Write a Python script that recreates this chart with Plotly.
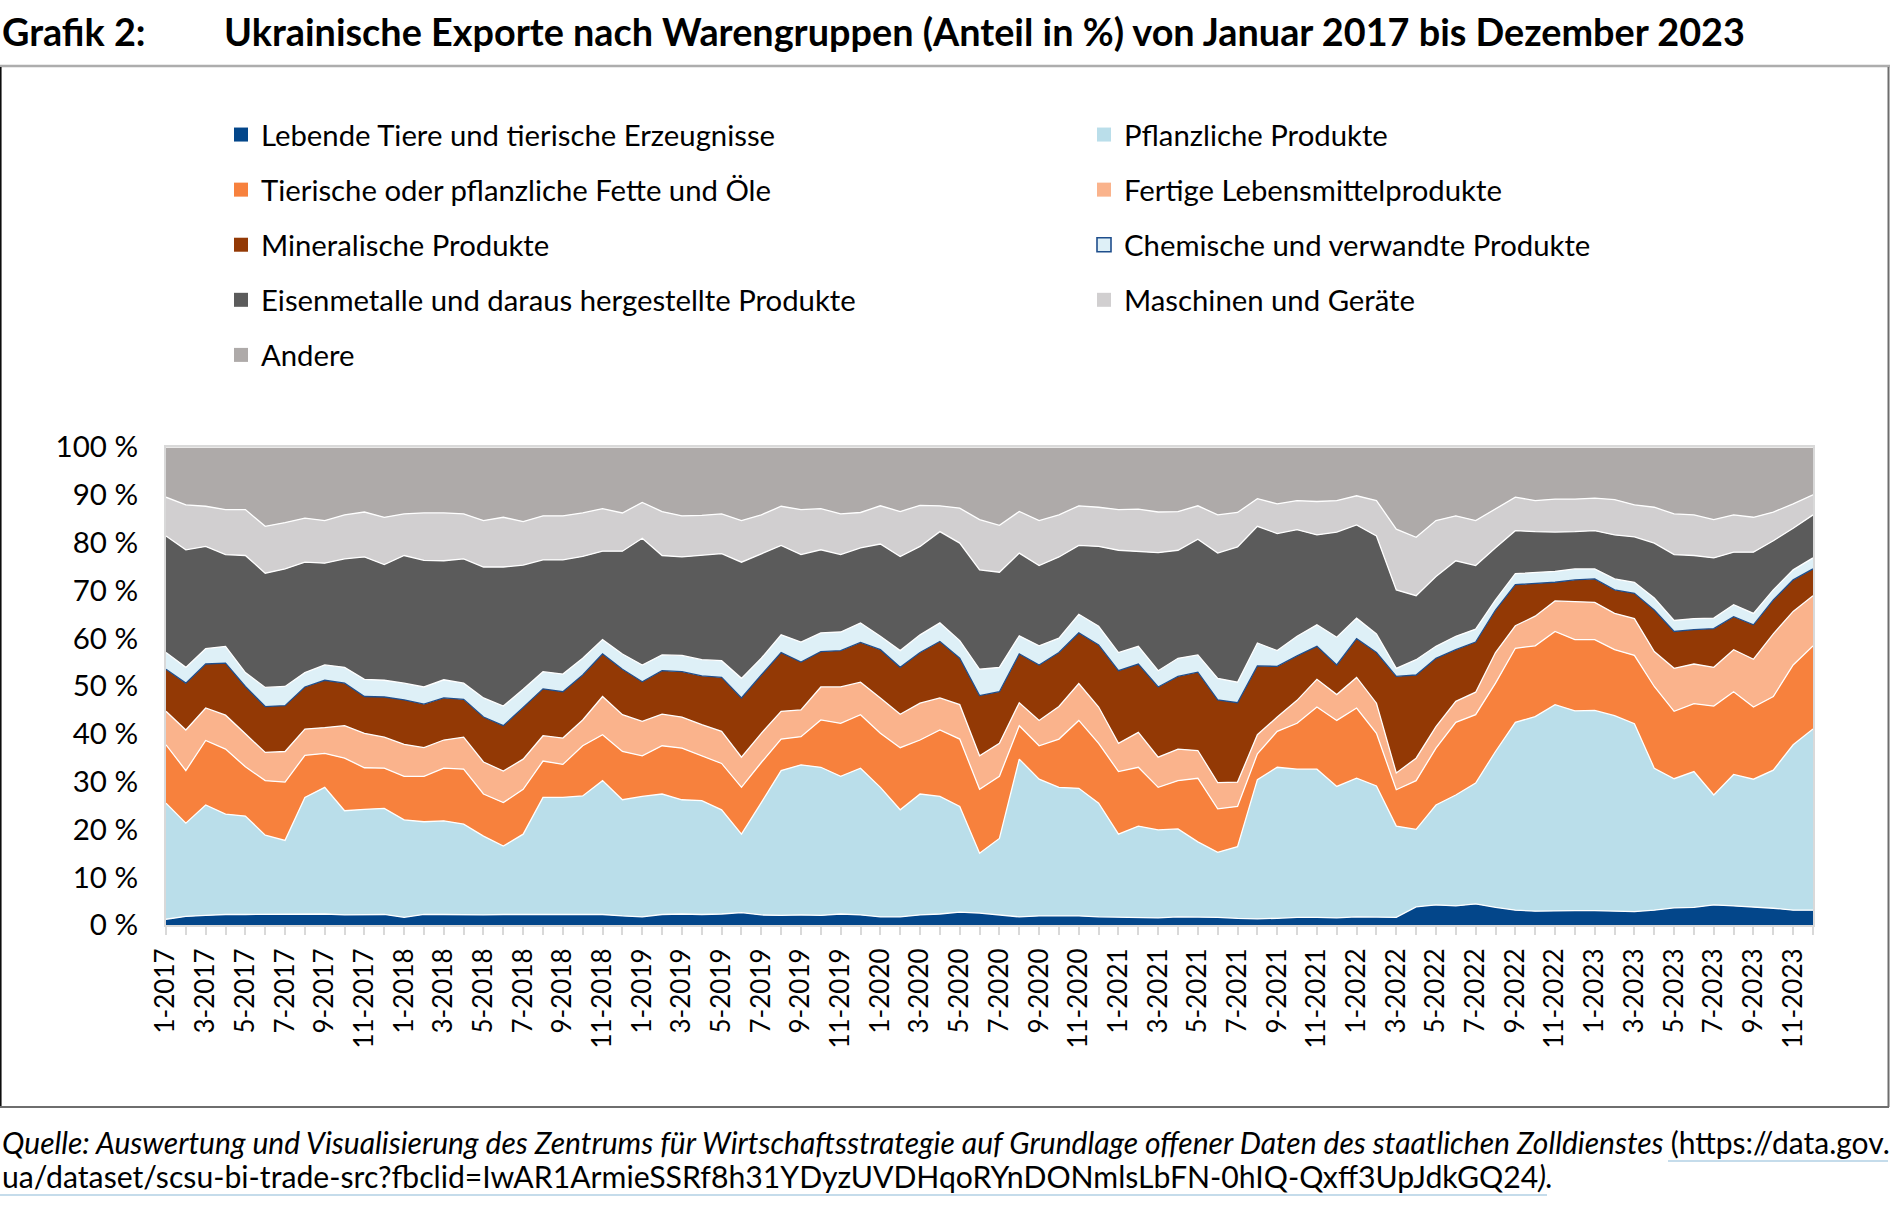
import plotly.graph_objects as go

# ---------------- data ----------------
months = [f"{m}-{y}" for y in range(2017, 2024) for m in range(1, 13)]
tick_labels = [lab if i % 2 == 0 else "" for i, lab in enumerate(months)]

lebende = [1.2,1.8,2.0,2.2,2.2,2.2,2.2,2.3,2.3,2.1,2.2,2.2,1.6,2.2,2.2,2.1,2.1,2.2,2.2,2.2,2.3,
           2.3,2.2,1.9,1.7,2.2,2.3,2.2,2.3,2.6,2.1,2.0,2.1,2.0,2.3,2.1,1.7,1.7,2.1,2.3,2.7,2.5,
           2.1,1.7,1.9,1.9,1.9,1.7,1.6,1.6,1.5,1.7,1.7,1.6,1.4,1.3,1.4,1.6,1.6,1.5,1.7,1.7,1.6,
           3.8,4.2,4.0,4.4,3.7,3.1,2.9,3.0,3.0,3.0,2.9,2.8,3.1,3.6,3.7,4.2,4.0,3.8,3.5,3.1,3.1]
pflanzlich = [24.3,19.5,23.1,21.0,20.6,16.6,15.5,24.4,26.5,21.8,22.0,22.2,20.4,19.4,19.6,19.0,16.5,14.3,16.8,24.5,24.4,
              24.7,28.0,24.3,25.2,25.2,23.9,23.8,21.8,16.4,23.5,30.3,31.4,31.0,28.8,30.7,27.1,22.4,25.3,24.6,22.1,12.5,
              16.0,33.0,28.6,26.9,26.7,23.8,17.4,19.1,18.4,18.4,15.7,13.6,15.0,29.1,31.6,31.0,31.0,27.5,29.0,27.4,19.1,
              16.2,20.9,23.2,25.3,32.6,39.3,40.7,43.1,41.8,41.9,40.9,39.3,29.7,27.0,28.4,23.0,27.5,26.7,28.9,34.6,37.9]
fette = [12.2,11.0,13.5,13.6,10.3,11.4,12.2,8.8,7.1,11.0,8.7,8.4,9.1,9.5,11.0,11.5,8.8,9.1,9.4,7.6,6.9,
         10.5,9.6,10.1,8.5,10.1,10.8,9.4,9.7,9.8,8.4,6.6,5.9,9.9,11.1,11.2,11.3,13.0,11.3,13.9,14.1,13.4,
         13.0,7.0,7.0,10.1,14.2,12.5,13.1,12.3,8.9,10.1,13.3,9.1,8.4,5.4,7.5,9.6,13.0,13.8,14.7,11.0,7.6,
         10.2,11.9,15.2,14.3,14.3,15.5,14.8,15.3,14.9,14.8,13.8,14.3,17.1,14.1,14.2,18.6,17.3,15.1,15.4,16.7,17.4]
lebensmittel = [7.0,8.5,6.8,7.1,6.9,5.9,6.4,5.5,5.4,6.8,7.2,6.5,6.7,6.0,5.9,6.7,6.7,6.6,6.3,5.3,5.5,
                5.4,8.0,7.7,7.2,6.6,6.5,6.5,6.7,6.3,6.1,5.8,5.6,6.9,7.6,6.8,7.4,7.0,7.7,6.7,7.2,7.0,
                6.9,4.8,5.3,6.8,7.7,7.6,5.9,7.3,6.3,6.6,5.8,5.5,5.1,4.0,3.0,4.8,5.8,5.4,6.4,6.3,3.5,
                4.7,4.5,4.4,4.7,6.4,4.7,6.2,6.4,8.0,7.8,7.6,7.7,7.3,9.0,8.3,8.1,8.8,10.0,13.1,11.2,10.5]
mineralisch = [8.8,9.8,9.2,10.9,9.9,9.6,9.6,8.8,9.9,8.9,7.7,8.4,9.3,9.1,8.8,7.9,9.4,9.5,10.8,9.8,9.7,
               9.4,8.9,9.5,8.3,9.1,9.5,10.2,11.3,12.4,12.2,12.3,10.0,7.4,7.6,8.3,10.1,9.8,10.6,11.8,9.7,12.6,
               10.8,10.2,11.6,11.3,10.6,13.0,15.2,14.3,14.7,15.2,16.4,17.3,16.6,14.4,10.6,9.3,6.9,6.2,8.1,10.6,20.2,
               17.4,14.3,10.8,10.5,8.9,8.6,6.8,3.9,4.5,4.9,4.9,5.3,8.7,7.7,7.2,8.1,6.9,7.2,7.1,6.6,5.6]
chemisch = [3.5,3.3,3.2,3.5,2.9,4.0,4.0,3.0,3.2,3.3,3.6,3.5,3.5,3.6,3.8,3.4,4.0,4.1,3.8,3.6,3.7,
            3.5,3.0,3.2,3.5,3.3,3.4,3.4,3.5,4.1,3.5,3.7,4.2,3.9,3.9,4.1,2.8,3.5,3.7,3.9,3.7,5.5,
            5.1,3.8,4.0,3.0,3.9,3.9,3.8,3.7,3.4,3.8,3.6,4.5,4.3,4.8,3.3,4.1,4.5,5.8,4.3,3.9,1.7,
            3.2,2.5,2.8,2.7,2.1,2.3,2.4,2.3,2.3,2.1,2.3,2.3,2.5,2.3,2.3,2.2,2.5,2.4,2.1,2.1,2.3]
eisen = [24.4,24.6,21.4,19.2,24.5,23.9,24.6,23.1,21.3,22.7,25.6,24.2,26.7,26.5,24.9,26.0,27.4,29.1,26.0,23.4,23.9,
         21.3,18.5,21.5,26.5,20.8,20.6,21.8,22.4,24.3,21.9,18.7,18.3,17.4,16.2,15.7,19.3,19.7,18.5,19.1,20.4,20.8,
         19.9,17.3,16.8,17.0,14.4,16.7,21.4,19.9,24.7,22.6,24.2,26.2,28.3,24.4,24.5,22.3,18.8,22.0,19.5,20.5,16.4,
         13.4,14.6,15.8,13.3,10.9,9.0,8.5,8.2,7.8,8.0,9.2,9.5,11.5,13.8,13.2,12.6,11.0,12.8,10.3,8.7,9.0]
maschinen = [8.1,9.4,8.4,9.4,9.6,9.8,9.7,9.2,8.9,9.2,9.4,9.9,8.7,9.9,10.0,9.4,9.7,10.4,9.1,9.2,9.2,
             9.1,8.9,8.0,7.5,9.2,8.6,8.4,8.3,8.7,8.1,8.2,9.4,8.6,8.5,7.4,8.0,9.4,8.6,5.4,7.3,10.5,
             9.8,8.7,9.4,8.8,8.3,8.2,8.5,8.8,8.5,8.1,7.0,8.0,7.2,5.8,6.2,6.1,7.0,6.6,6.1,7.4,12.7,
             12.2,11.7,9.4,9.4,8.2,7.0,6.5,6.9,6.8,6.8,7.4,6.7,7.5,8.5,8.5,8.0,7.8,7.3,6.0,5.1,4.2]
andere = [10.5,12.1,12.4,13.1,13.1,16.6,15.8,14.9,15.4,14.2,13.6,14.7,14.0,13.8,13.8,14.0,15.4,14.7,15.6,14.4,14.4,
          13.8,12.9,13.8,11.6,13.5,14.4,14.3,14.0,15.4,14.2,12.4,13.1,12.9,14.0,13.7,12.3,13.5,12.2,12.3,12.8,15.2,
          16.4,13.5,15.4,14.2,12.3,12.6,13.1,13.0,13.6,13.5,12.3,14.2,13.7,10.8,11.9,11.2,11.4,11.2,10.2,11.2,17.2,
          18.9,15.4,14.4,15.4,12.9,10.5,11.2,10.9,10.9,10.7,11.0,12.1,12.6,14.0,14.2,15.2,14.2,14.7,13.6,11.9,10.0]

series_names = ["Lebende Tiere und tierische Erzeugnisse", "Pflanzliche Produkte",
                "Tierische oder pflanzliche Fette und Öle", "Fertige Lebensmittelprodukte",
                "Mineralische Produkte", "Chemische und verwandte Produkte",
                "Eisenmetalle und daraus hergestellte Produkte", "Maschinen und Geräte", "Andere"]
series_values = [lebende, pflanzlich, fette, lebensmittel, mineralisch, chemisch, eisen, maschinen, andere]
y_ticks = list(range(0, 101, 10))
y_tick_text = [f"{v} %" for v in y_ticks]

# ---------------- styles ----------------
colors = ["#03468A", "#BADEEA", "#F7813D", "#FAB38C", "#933905", "#DEF0F7", "#5B5B5B", "#D1CFD0", "#AEAAA9"]
edge_colors = ["white", "white", "white", "white", "#1F4E8C", "white", "white", "white", "white"]
FONT = "Lato"
W, H = 1890, 1207
L, R, T, B = 166, 1813, 447, 925


def px(x):
    return (x - L) / (R - L)


def py(y):
    return (B - y) / (B - T)


fig = go.Figure()
for name, vals, col, ec in zip(series_names, series_values, colors, edge_colors):
    fig.add_trace(go.Scatter(x=months, y=vals, name=name, stackgroup="one", groupnorm="percent",
                             mode="lines", line=dict(color=ec, width=1.3), fillcolor=col,
                             showlegend=False, hoverinfo="x+y+name"))

# legend entries (square markers), two columns
for k, (name, col) in enumerate(zip(series_names, colors)):
    lw = 1.6 if k == 5 else 0
    fig.add_trace(go.Scatter(x=[None], y=[None], mode="markers", name=name,
                             marker=dict(symbol="square", size=14, color=col,
                                         line=dict(color="#1F4E8C", width=lw)),
                             legend="legend" if k % 2 == 0 else "legend2",
                             legendgroup=f"g{k}", showlegend=True))

legend_common = dict(font=dict(family=FONT, size=29.3, color="#000000"), bgcolor="rgba(0,0,0,0)",
                     orientation="v", yanchor="top", xanchor="left", tracegroupgap=14,
                     itemclick=False, itemdoubleclick=False)

fig.update_layout(
    width=W, height=H,
    margin=dict(l=L, r=W - R, t=T, b=H - B),
    paper_bgcolor="white", plot_bgcolor="white",
    font=dict(family=FONT, size=26, color="#000000"),
    showlegend=True,
    legend=dict(x=px(221), y=py(109), **legend_common),
    legend2=dict(x=px(1084), y=py(109), **legend_common),
    xaxis=dict(type="category", categoryorder="array", categoryarray=months,
               range=[0, len(months) - 1], tickmode="array", tickvals=months, ticktext=tick_labels,
               tickangle=-90, ticks="outside", ticklen=8, tickwidth=1.5, tickcolor="#D9D9D9",
               showline=True, linecolor="#D9D9D9", linewidth=2, mirror=True, showgrid=False,
               ticklabelstandoff=3,
               tickfont=dict(family=FONT, size=26, color="#000000"), zeroline=False),
    yaxis=dict(range=[0, 100], tickmode="array", tickvals=y_ticks, ticktext=y_tick_text,
               showgrid=False, zeroline=False, showline=True, linecolor="#D9D9D9", linewidth=2,
               mirror=True, ticks="", ticklabelstandoff=20,
               tickfont=dict(family=FONT, size=29.5, color="#000000")),
)

# title
fig.add_annotation(text="<b>Grafik 2:</b>", xref="paper", yref="paper", x=px(0), y=py(31),
                   xanchor="left", yanchor="middle", showarrow=False,
                   font=dict(family=FONT, size=37.8, color="#000000"))
fig.add_annotation(text="<b>Ukrainische Exporte nach Warengruppen (Anteil in %) von Januar 2017 bis Dezember 2023</b>",
                   xref="paper", yref="paper", x=px(222), y=py(31), xanchor="left", yanchor="middle",
                   showarrow=False, font=dict(family=FONT, size=37.8, color="#000000"))

# footer
fig.add_annotation(text="<i>Quelle: Auswertung und Visualisierung des Zentrums für Wirtschaftsstrategie auf Grundlage offener Daten des staatlichen Zolldienstes </i>(https://data.gov.",
                   xref="paper", yref="paper", x=px(0), y=py(1142), xanchor="left", yanchor="middle",
                   showarrow=False, font=dict(family=FONT, size=30.0, color="#000000"))
fig.add_annotation(text="ua/dataset/scsu-bi-trade-src?fbclid=IwAR1ArmieSSRf8h31YDyzUVDHqoRYnDONmlsLbFN-0hIQ-Qxff3UpJdkGQ24<i>).</i>",
                   xref="paper", yref="paper", x=px(0), y=py(1176), xanchor="left", yanchor="middle",
                   showarrow=False, font=dict(family=FONT, size=30.2, color="#000000"))

# frame and link underlines
shapes = [
    dict(type="line", xref="paper", yref="paper", x0=px(0), x1=px(W), y0=py(66), y1=py(66),
         line=dict(color="#ADADAD", width=2.5)),
    dict(type="line", xref="paper", yref="paper", x0=px(0.8), x1=px(0.8), y0=py(67), y1=py(1107),
         line=dict(color="#000000", width=1.5)),
    dict(type="line", xref="paper", yref="paper", x0=px(0), x1=px(1889), y0=py(1107), y1=py(1107),
         line=dict(color="#6E6E6E", width=2)),
    dict(type="line", xref="paper", yref="paper", x0=px(1888.5), x1=px(1888.5), y0=py(67), y1=py(1107),
         line=dict(color="#6E6E6E", width=2)),
    dict(type="line", xref="paper", yref="paper", x0=px(1668), x1=px(1888), y0=py(1161), y1=py(1161),
         line=dict(color="#C5DCEB", width=2)),
    dict(type="line", xref="paper", yref="paper", x0=px(0), x1=px(1547), y0=py(1195), y1=py(1195),
         line=dict(color="#C5DCEB", width=2)),
]
fig.update_layout(shapes=shapes)

fig.write_html("out.html", config={"displayModeBar": False},
               post_script="document.body.style.margin='0';document.body.style.padding='0';")
